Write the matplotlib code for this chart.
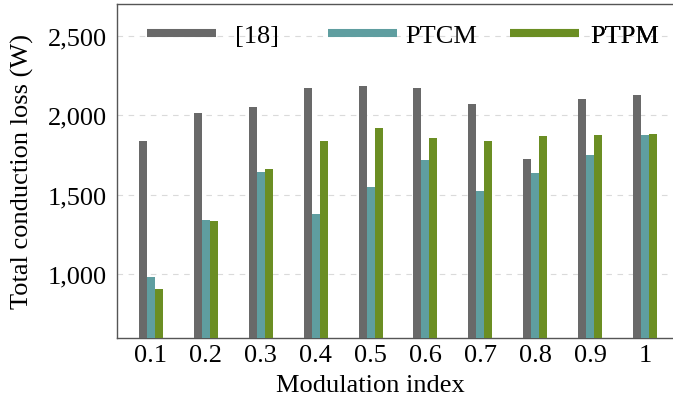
import matplotlib
matplotlib.use("Agg")
import matplotlib.pyplot as plt
import numpy as np

# modulation index categories and conduction loss per method (W)
mod_index = ["0.1", "0.2", "0.3", "0.4", "0.5", "0.6", "0.7", "0.8", "0.9", "1"]
loss_ref18 = [1835, 2011, 2049, 2168, 2181, 2168, 2068, 1722, 2099, 2124]
loss_ptcm = [983, 1344, 1646, 1382, 1546, 1716, 1521, 1634, 1753, 1873]
loss_ptpm = [908, 1338, 1665, 1835, 1917, 1854, 1835, 1867, 1873, 1885]
series_names = ["[18]", "PTCM", "PTPM"]
y_ticks = [1000, 1500, 2000, 2500]

plt.rcParams["font.family"] = ["Liberation Serif", "DejaVu Serif"]
plt.rcParams["font.size"] = 19

colors = ["#696969", "#5f9ea0", "#6b8e23"]

fig = plt.figure(figsize=(6.73, 4.02), dpi=100)
ax = fig.add_axes([0.1738, 0.1567, 0.8262, 0.8313])

x = np.arange(len(mod_index))
w = 0.146
for i, vals in enumerate([loss_ref18, loss_ptcm, loss_ptpm]):
    ax.bar(x + (i - 1) * w, vals, width=w, color=colors[i], zorder=3)

ax.set_xlim(-0.62, 9.51)
ax.set_ylim(600, 2700)
ax.set_xticks(x)
ax.set_xticklabels(mod_index)
ax.set_yticks(y_ticks)
ax.set_yticklabels([f"{v:,}" for v in y_ticks])
ax.tick_params(length=0)
ax.tick_params(axis="x", pad=4)
ax.tick_params(axis="y", pad=7)
ax.grid(axis="y", color="#dadada", linestyle=(0, (5, 5)), linewidth=0.8, zorder=0)

ax.spines["right"].set_visible(False)
for s in ["left", "bottom", "top"]:
    ax.spines[s].set_color("#555555")
    ax.spines[s].set_linewidth(1.0)

ax.set_xlabel("Modulation index", labelpad=6, x=0.455)
ax.set_ylabel("Total conduction loss (W)", labelpad=10)

# one legend per entry so each sits where the reference puts it
handle_x = [147, 328, 510]
text_pads = [0.72, 0.32, 0.44]
for c, name, hx, tp in zip(colors, series_names, handle_x, text_pads):
    h = plt.Line2D([], [], color=c, linewidth=5.8, solid_capstyle="butt")
    leg = ax.legend([h], [name], frameon=False, loc="center left",
                    bbox_to_anchor=(hx / 673, 1 - 36 / 402), bbox_transform=fig.transFigure,
                    handlelength=69 / 26.4, handletextpad=tp,
                    borderpad=0, borderaxespad=0)
    ax.add_artist(leg)

fig.savefig("out.png", dpi=100, facecolor="white")
